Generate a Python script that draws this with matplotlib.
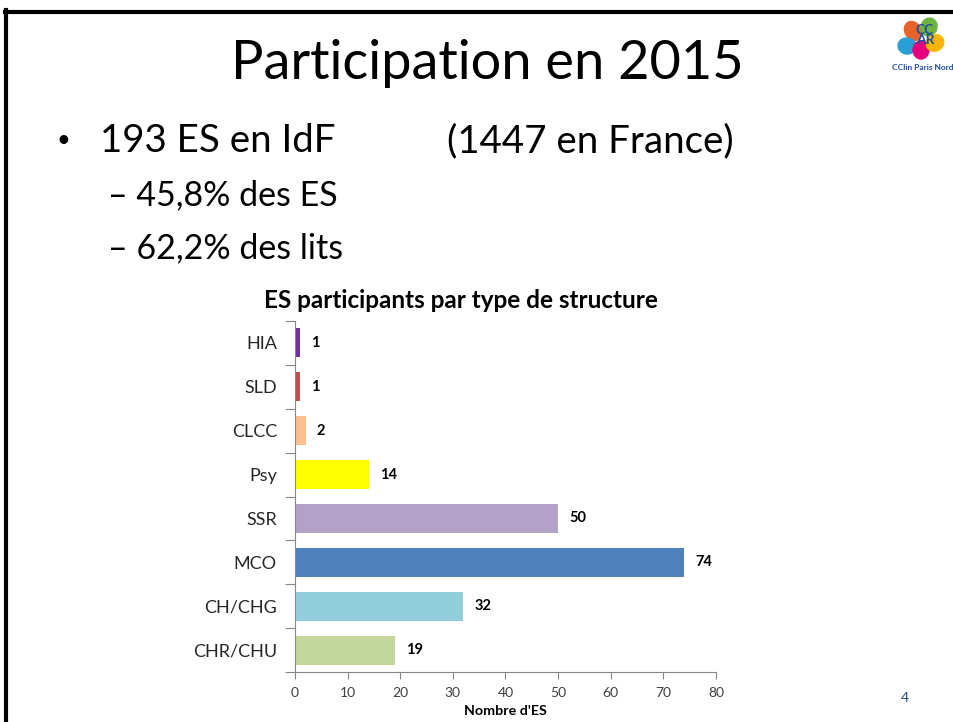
import matplotlib.pyplot as plt
from matplotlib.patches import Ellipse

plt.rcParams['font.family'] = ['Lato', 'DejaVu Sans']

# Data (bottom to top as drawn)
categories = ['CHR/CHU', 'CH/CHG', 'MCO', 'SSR', 'Psy', 'CLCC', 'SLD', 'HIA']
values = [19, 32, 74, 50, 14, 2, 1, 1]
colors = ['#C3D69B', '#92CDDC', '#4F81BD', '#B3A2C7', '#FFFF00', '#FAC090', '#C0504D', '#7030A0']
x_ticks = [0, 10, 20, 30, 40, 50, 60, 70, 80]

W, H = 954, 722
fig = plt.figure(figsize=(W / 100, H / 100), dpi=100)

# slide frame (top and left border)
fig.add_artist(plt.Line2D([6.5 / W, 6.5 / W], [0, 1 - 10 / H], color='black', lw=3))
fig.add_artist(plt.Line2D([5 / W, 1], [1 - 11.5 / H, 1 - 11.5 / H], color='black', lw=3))

# slide texts
fig.text(487 / W, 1 - 63 / H, 'Participation en 2015', ha='center', va='center', fontsize=39, color='black')
fig.text(63 / W, 1 - 141 / H, '•', ha='center', va='center', fontsize=17)
fig.text(100 / W, 1 - 141 / H, '193 ES en IdF', ha='left', va='center', fontsize=27.7)
fig.text(447 / W, 1 - 141 / H, '(1447 en France)', ha='left', va='center', fontsize=27.7)
fig.text(108 / W, 1 - 195 / H, '– 45,8% des ES', ha='left', va='center', fontsize=24.5)
fig.text(108 / W, 1 - 248 / H, '– 62,2% des lits', ha='left', va='center', fontsize=24.5)
fig.text(905 / W, 1 - 698 / H, '4', ha='center', va='center', fontsize=10, color='#1F497D')

# small logo in the corner
logo = fig.add_axes([885 / W, 1 - 75 / H, 69 / W, 60 / H])
logo.set_xlim(0, 69)
logo.set_ylim(0, 60)
logo.axis('off')
for (cx, cy, w, h, ang, c) in [(28, 44, 16, 20, 30, '#E8632B'), (44, 48, 16, 18, -20, '#6CB33F'),
                                (22, 29, 16, 18, 80, '#2A9FD6'), (36, 25, 16, 18, 0, '#E6007E'),
                                (50, 32, 16, 18, -60, '#F7B500')]:
    logo.add_patch(Ellipse((cx, cy), w, h, angle=ang, color=c))
logo.text(40, 40, 'CC\nAR', fontsize=10, color='#1F4E9C', ha='center', va='center',
          fontweight='bold', linespacing=0.8)
logo.text(38, 8, 'CClin Paris Nord', fontsize=6, color='#1F4E9C', ha='center', va='center',
          fontweight='bold', clip_on=True)

# chart
ax = fig.add_axes([295 / W, 1 - 672 / H, (716 - 295) / W, (672 - 321) / H])
ypos = list(range(len(categories)))
ax.barh(ypos, values, height=0.66, color=colors)
for y, v in zip(ypos, values):
    ax.annotate(str(v), (v, y), xytext=(8, 0), textcoords='offset points',
                ha='left', va='center', fontsize=10.5, fontweight='bold', color='black')

ax.set_xlim(0, 80)
ax.set_ylim(-0.5, len(categories) - 0.5)
ax.set_xticks(x_ticks)
ax.tick_params(axis='x', colors='#868686', labelcolor='#404040', labelsize=10, length=5, direction='out', pad=6)

ax.set_yticks([i - 0.5 for i in range(len(categories) + 1)])
ax.set_yticklabels([])
ax.set_yticks(ypos, minor=True)
ax.set_yticklabels(categories, minor=True)
ax.tick_params(axis='y', which='major', colors='#868686', length=7, direction='out')
ax.tick_params(axis='y', which='minor', length=0, labelsize=13, labelcolor='#262626', pad=13)

for s in ['top', 'right']:
    ax.spines[s].set_visible(False)
for s in ['left', 'bottom']:
    ax.spines[s].set_color('#868686')

ax.set_xlabel("Nombre d'ES", fontsize=10.3, fontweight='bold', labelpad=4)
fig.text(461 / W, 1 - 300 / H, 'ES participants par type de structure', ha='center', va='center',
         fontsize=17.5, fontweight='bold')

fig.savefig('out.png', dpi=100)
